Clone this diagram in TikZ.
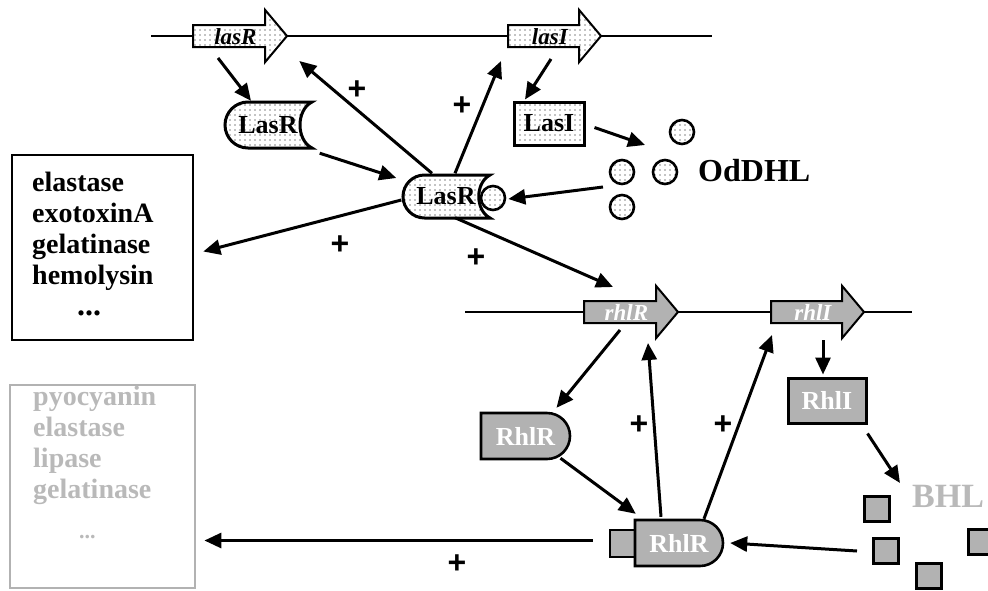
\documentclass[tikz,border=0pt]{standalone}
\usepackage{fontspec}
\setmainfont{Liberation Serif}
\newfontfamily\plusfont{Liberation Sans}
\usetikzlibrary{arrows.meta,shapes.arrows,patterns.meta,calc}

\tikzset{
  dotfill/.style={preaction={fill=white}, pattern={Dots[distance=5pt,radius=0.6pt]}},
  rhlfill/.style={fill=gray!60},
  gene/.style={single arrow, draw, line width=2pt, anchor=tail,
    single arrow head extend=15pt, single arrow head indent=0pt,
    single arrow tip angle=100, inner xsep=3pt, inner ysep=1pt,
    text height=17pt, text depth=1pt,
    font=\bfseries\itshape\fontsize{23}{23}\selectfont},
  prot/.style={inner sep=0pt, font=\bfseries\fontsize{26}{26}\selectfont},
  mol/.style={circle, draw, line width=2.6pt, dotfill, minimum size=24pt, inner sep=0pt},
  sq/.style={rectangle, draw, line width=3pt, rhlfill, minimum size=25pt, inner sep=0pt},
  effect/.style={anchor=base west, inner sep=0pt, font=\bfseries\fontsize{28}{28}\selectfont},
  link/.style={line width=3pt, -{Triangle[length=17pt,width=15pt]}},
  plus/.style={font=\plusfont\bfseries\fontsize{32}{32}\selectfont}
}

\begin{document}
\begin{tikzpicture}[x=1pt,y=-1pt]
  \useasboundingbox (0,0) rectangle (988,590);
  % chromosome lines
  \draw[line width=2.4pt] (151,36) -- (712,36);
  \draw[line width=2.4pt] (465,312) -- (912,312);
  % genes
  \node[gene, dotfill, minimum height=94pt] (lasRg) at (192,36) {lasR};
  \node[gene, dotfill, minimum height=93pt] (lasIg) at (507,36) {lasI};
  \node[gene, rhlfill, text=white, minimum height=94pt] (rhlRg) at (583,312) {rhlR};
  \node[gene, rhlfill, text=white, minimum height=93pt] (rhlIg) at (770,312) {rhlI};

  % las proteins
  \draw[dotfill, line width=3pt] (248,102) -- (312,102)
    .. controls (296,110) and (296,140) .. (312,148) -- (248,148) arc(90:270:23) -- cycle;
  \node[prot, minimum width=87pt, minimum height=46pt] (lasRp) at (268,125) {LasR};
  \draw[dotfill, line width=3pt] (424.5,175) -- (490,175)
    .. controls (475,183) and (475,210) .. (490,218) -- (424.5,218) arc(90:270:21.5) -- cycle;
  \node[prot, minimum width=87pt, minimum height=43pt] (lasRc) at (446,196) {LasR};
  \node[mol] (odc) at (493,198) {};
  \node[prot, draw, line width=3pt, dotfill, minimum width=70pt, minimum height=43pt] (lasIb) at (549,123.5) {LasI};

  % OdDHL
  \foreach \p [count=\i] in {(682,132),(622,172),(665,172),(622,207)}
    \node[mol] (od\i) at \p {};
  \node[anchor=base west, inner sep=0pt, font=\bfseries\fontsize{32}{32}\selectfont] (odLab) at (698,181) {OdDHL};

  % rhl proteins
  \draw[rhlfill, line width=2.6pt] (481,413) -- (547,413) arc(-90:90:23) -- (481,459) -- cycle;
  \node[prot, text=white, minimum width=89pt, minimum height=46pt] (rhlRp) at (525.5,436) {RhlR};
  \node[sq, minimum width=25pt, minimum height=27pt, line width=2.4pt] (sqR) at (622.5,543.5) {};
  \draw[rhlfill, line width=2.6pt] (635,520) -- (700,520) arc(-90:90:23) -- (635,566) -- cycle;
  \node[prot, text=white, minimum width=88pt, minimum height=46pt] (rhlRc) at (679,543) {RhlR};
  \node[prot, draw, line width=3pt, rhlfill, text=white, minimum width=78pt, minimum height=45pt] (rhlIb) at (827,400.5) {RhlI};

  % BHL
  \foreach \p [count=\i] in {(877,509),(886,551),(981,542),(929,576)}
    \node[sq] (bhl\i) at \p {};
  \node[anchor=base west, inner sep=0pt, text=gray!55, font=\bfseries\fontsize{34}{34}\selectfont] (bhlLab) at (912,507) {BHL};

  % target boxes
  \node[draw, line width=2.6pt, minimum width=181pt, minimum height=185pt] (elBox) at (102.5,247.5) {};
  \foreach \t [count=\i] in {elastase,exotoxinA,gelatinase,hemolysin}
    \node[effect] (el\i) at (32,160+31*\i) {\t};
  \node[effect, font=\bfseries\fontsize{32}{32}\selectfont] (el5) at (77,315) {...};
  \node[draw=gray!60, line width=2.8pt, minimum width=185pt, minimum height=203pt] (pyBox) at (102.5,486.5) {};
  \foreach \t [count=\i] in {pyocyanin,elastase,lipase,gelatinase}
    \node[effect, text=gray!55] (py\i) at (33,374+31*\i) {\t};
  \node[effect, text=gray!55, font=\bfseries\fontsize{22}{22}\selectfont] (py5) at (79,538) {...};

  % las connectors
  \draw[link] ($(lasRg.tail)+(26,22)$) -- ($(lasRp.north)+(-17,-1)$);
  \draw[link] ($(lasRc.north)+(-14,-1)$) -- ($(lasRg.tip)+(11,25)$);
  \draw[link] ($(lasRc.north)+(9,-1)$) -- ($(lasIg.tail)+(-6,25)$);
  \draw[link] ($(lasIg.tail)+(44,23)$) -- ($(lasIb.north)+(-24,-1)$);
  \draw[link] ($(lasIb.east)+(9,4)$) -- ($(od2)+(23,-27)$);
  \draw[link] ($(od2)+(-19,15)$) -- ($(odc.east)+(2,1)$);
  \draw[link] ($(lasRp.south east)+(8,5)$) -- ($(lasRc.west)+(-6,-18)$);
  \draw[link] ($(lasRc.west)+(-1,4)$) -- ($(elBox.east)+(9,4)$);
  \draw[link] ($(lasRc.south)+(9,0)$) -- ($(rhlRg.tail)+(30,-25)$);

  % rhl connectors
  \draw[link] ($(rhlRg.tail)+(37,18)$) -- ($(rhlRp.north)+(31,-5)$);
  \draw[link] ($(rhlRc.north)+(-18,-3)$) -- ($(rhlRg.tail)+(65,31)$);
  \draw[link] ($(rhlRc.north)+(25,-1)$) -- ($(rhlIg.tail)+(2,23)$);
  \draw[link] ($(rhlIg.tail)+(53,28)$) -- ($(rhlIb.north)+(-4,-2)$);
  \draw[link] ($(rhlIb.south east)+(0,9)$) -- ($(bhl1)+(23,-26)$);
  \draw[link] ($(rhlRp.south)+(35,-1)$) -- ($(rhlRc.north west)+(1,-6)$);
  \draw[link] ($(bhl2.west)+(-15,0)$) -- ($(rhlRc.east)+(7,0)$);
  \draw[link] ($(sqR.west)+(-16,-3)$) -- ($(pyBox.east |- sqR.west)+(8,-3)$);

  % plus signs
  \foreach \p [count=\i] in {(357,90),(462,106),(340,245),(476,258),(639,425),(723,425),(457,564)}
    \node[plus] (plus\i) at \p {+};
\end{tikzpicture}
\end{document}
